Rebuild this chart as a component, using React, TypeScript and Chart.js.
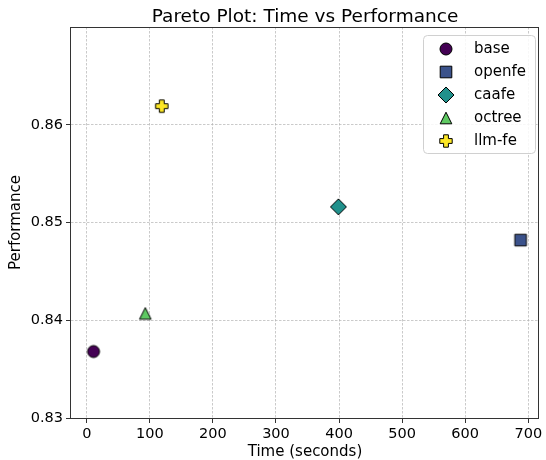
import React, { useEffect, useRef } from 'react';
import { Chart, registerables } from 'chart.js';

Chart.register(...registerables);

// ---- data ----
const methods = ['base', 'openfe', 'caafe', 'octree', 'llm-fe'];
const timeSeconds = [10.7, 687.8, 399, 92.8, 118.9];
const performance = [0.8368, 0.8482, 0.8516, 0.8407, 0.8619];
const colors = ['#440154', '#3b528b', '#21918c', '#5ec962', '#fde725'];
const markerShapes = ['circle', 'square', 'diamond', 'triangle', 'plus'];
const xTicks = [0, 100, 200, 300, 400, 500, 600, 700];
const yTicks = [0.83, 0.84, 0.85, 0.86];
const chartTitle = 'Pareto Plot: Time vs Performance';
const xLabel = 'Time (seconds)';
const yLabel = 'Performance';

const FONT = "'DejaVu Sans', sans-serif";

function makeMarker(shape: string, color: string): HTMLCanvasElement {
  const S = 22;
  const c = S / 2;
  const cv = document.createElement('canvas');
  cv.width = S;
  cv.height = S;
  const ctx = cv.getContext('2d')!;
  ctx.fillStyle = color;
  ctx.strokeStyle = '#000';
  ctx.lineWidth = 1;
  ctx.lineJoin = 'miter';
  ctx.beginPath();
  if (shape === 'circle') {
    ctx.arc(c, c, 6, 0, Math.PI * 2);
  } else if (shape === 'square') {
    const h = 5.8;
    ctx.rect(c - h, c - h, 2 * h, 2 * h);
  } else if (shape === 'diamond') {
    const h = 8;
    ctx.moveTo(c, c - h);
    ctx.lineTo(c + h, c);
    ctx.lineTo(c, c + h);
    ctx.lineTo(c - h, c);
    ctx.closePath();
  } else if (shape === 'triangle') {
    const h = 5.8;
    ctx.moveTo(c, c - h);
    ctx.lineTo(c + h, c + h);
    ctx.lineTo(c - h, c + h);
    ctx.closePath();
  } else {
    const h = 6.2;
    const a = 2.4;
    const pts = [
      [-h, -a], [-a, -a], [-a, -h], [a, -h], [a, -a], [h, -a],
      [h, a], [a, a], [a, h], [-a, h], [-a, a], [-h, a],
    ];
    pts.forEach(([px, py], i) => {
      if (i === 0) ctx.moveTo(c + px, c + py);
      else ctx.lineTo(c + px, c + py);
    });
    ctx.closePath();
  }
  ctx.fill();
  ctx.stroke();
  return cv;
}

const gridOpts: any = {
  color: 'rgba(176,176,176,0.85)',
  lineWidth: 0.8,
  drawTicks: true,
  tickLength: 5,
  tickColor: '#333',
  tickWidth: 1,
  tickBorderDash: [],
};

export default function App() {
  const ref = useRef<HTMLCanvasElement | null>(null);

  useEffect(() => {
    document.body.style.margin = '0';
    const canvas = ref.current;
    if (!canvas) return;

    const markerImgs = methods.map((_, i) => makeMarker(markerShapes[i], colors[i]));

    const decor = {
      id: 'decor',
      afterDatasetsDraw(chart: any) {
        const { ctx, chartArea } = chart;
        ctx.save();
        ctx.strokeStyle = '#333';
        ctx.lineWidth = 1;
        ctx.setLineDash([]);
        ctx.strokeRect(
          Math.round(chartArea.left) - 0.5,
          Math.round(chartArea.top) + 0.5,
          Math.round(chartArea.right - chartArea.left),
          Math.round(chartArea.bottom - chartArea.top)
        );
        ctx.restore();
      },
      afterDraw(chart: any) {
        const { ctx, chartArea } = chart;
        ctx.save();
        ctx.setLineDash([]);
        // title
        ctx.fillStyle = '#000';
        ctx.font = `18.5px ${FONT}`;
        ctx.textAlign = 'center';
        ctx.textBaseline = 'alphabetic';
        ctx.fillText(chartTitle, (chartArea.left + chartArea.right) / 2, 21.5);

        // legend
        const bx = 423.5, by = 35.5, bw = 112, bh = 118, r = 4;
        ctx.beginPath();
        ctx.moveTo(bx + r, by);
        ctx.lineTo(bx + bw - r, by);
        ctx.arcTo(bx + bw, by, bx + bw, by + r, r);
        ctx.lineTo(bx + bw, by + bh - r);
        ctx.arcTo(bx + bw, by + bh, bx + bw - r, by + bh, r);
        ctx.lineTo(bx + r, by + bh);
        ctx.arcTo(bx, by + bh, bx, by + bh - r, r);
        ctx.lineTo(bx, by + r);
        ctx.arcTo(bx, by, bx + r, by, r);
        ctx.closePath();
        ctx.fillStyle = 'rgba(255,255,255,0.85)';
        ctx.fill();
        ctx.strokeStyle = '#d0d0d0';
        ctx.lineWidth = 1;
        ctx.stroke();

        ctx.font = `15px ${FONT}`;
        ctx.textAlign = 'left';
        ctx.textBaseline = 'middle';
        ctx.fillStyle = '#000';
        methods.forEach((m, i) => {
          const y = 49 + i * 23;
          const img = markerImgs[i];
          ctx.drawImage(img, 446 - img.width / 2, y - img.height / 2);
          ctx.fillText(m, 474, y);
        });
        ctx.restore();
      },
    };

    const chart = new Chart(canvas, {
      type: 'scatter',
      data: {
        datasets: methods.map((m, i) => ({
          label: m,
          data: [{ x: timeSeconds[i], y: performance[i] }],
          pointStyle: markerImgs[i] as any,
          pointRadius: 6,
          pointHoverRadius: 6,
          backgroundColor: colors[i],
          borderColor: '#000',
        })),
      },
      options: {
        responsive: false,
        animation: false,
        events: [],
        layout: { padding: { top: 27, right: 5, left: 0, bottom: 0 } },
        plugins: {
          legend: { display: false },
          tooltip: { enabled: false },
          title: { display: false },
        },
        scales: {
          x: {
            type: 'linear',
            min: -25,
            max: 717,
            afterBuildTicks: (s: any) => {
              s.ticks = xTicks.map((v) => ({ value: v }));
            },
            afterFit: (s: any) => {
              s.height = 42;
              s.paddingLeft = 0;
              s.paddingRight = 0;
            },
            ticks: {
              color: '#000',
              font: { family: FONT, size: 14.5 },
              padding: 3,
              maxRotation: 0,
              autoSkip: false,
              callback: (v: any) => String(v),
            },
            grid: gridOpts,
            border: { display: false, dash: [2.5, 1.5] } as any,
            title: {
              display: true,
              text: xLabel,
              color: '#000',
              font: { family: FONT, size: 15, lineHeight: 1.1 },
              padding: { top: 0, bottom: 0 },
            },
          },
          y: {
            type: 'linear',
            min: 0.83,
            max: 0.87,
            afterBuildTicks: (s: any) => {
              s.ticks = yTicks.map((v) => ({ value: v }));
            },
            afterFit: (s: any) => {
              s.width = 71;
              s.paddingTop = 0;
              s.paddingBottom = 0;
            },
            ticks: {
              color: '#000',
              font: { family: FONT, size: 14.5 },
              padding: 3,
              autoSkip: false,
              callback: (v: any) => Number(v).toFixed(2),
            },
            grid: gridOpts,
            border: { display: false, dash: [2.5, 1.5] } as any,
            title: {
              display: true,
              text: yLabel,
              color: '#000',
              font: { family: FONT, size: 15 },
              padding: { top: 7, bottom: 0 },
            },
          },
        },
      },
      plugins: [decor],
    });

    return () => chart.destroy();
  }, []);

  return (
    <div style={{ width: 546, height: 460 }}>
      <canvas ref={ref} width={546} height={460} />
    </div>
  );
}
